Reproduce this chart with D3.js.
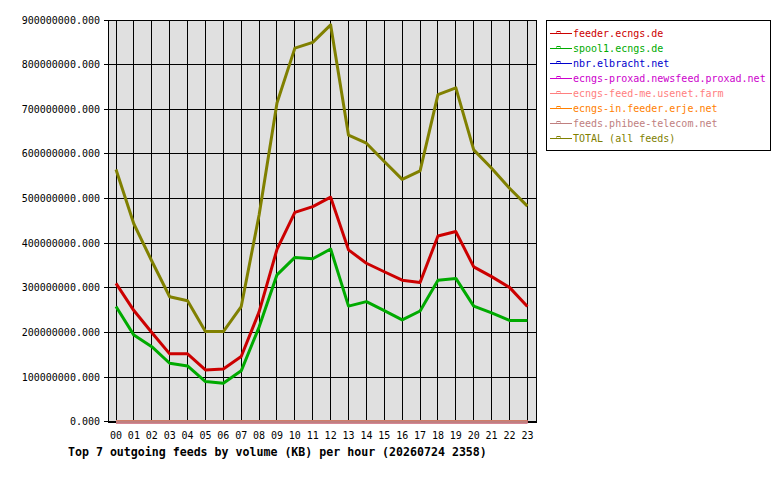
<!DOCTYPE html>
<html>
<head>
<meta charset="utf-8">
<script src="https://cdn.jsdelivr.net/npm/d3@7"></script>
<style>
  body { margin: 0; background: #fff; }
  svg { display: block; }
</style>
</head>
<body>
<svg id="chart"></svg>
<script>
// hourly outgoing volume (KB) per feed
const hours = ["00","01","02","03","04","05","06","07","08","09","10","11",
  "12","13","14","15","16","17","18","19","20","21","22","23"];

const feederEcngs = [310,249,200,152,152,116,118,146,246,386,469,482,
  503,385,355,336,317,312,416,426,347,325,301,258].map((v) => v * 1e6);
const spool1Ecngs = [258,194,168,131,125,90,86,114,212,329,368,365,
  387,259,269,249,228,248,317,321,259,244,227,227].map((v) => v * 1e6);
const nbrElbracht = [0,0,0,0,0,0,0,0,0,0,0,0,0,0,0,0,0,0,0,0,0,0,0,0];
const proxad = [0,0,0,0,0,0,0,0,0,0,0,0,0,0,0,0,0,0,0,0,0,0,0,0];
const feedMe = [0,0,0,0,0,0,0,0,0,0,0,0,0,0,0,0,0,0,0,0,0,0,0,0];
const erje = [0,0,0,0,0,0,0,0,0,0,0,0,0,0,0,0,0,0,0,0,0,0,0,0];
const phibee = [0,0,0,0,0,0,0,0,0,0,0,0,0,0,0,0,0,0,0,0,0,0,0,0];
const total = [565,443,360,280,271,202,202,258,463,714,837,850,
  889,642,624,583,543,562,733,748,609,568,523,483].map((v) => v * 1e6);

const feedNames = [
  "feeder.ecngs.de",
  "spool1.ecngs.de",
  "nbr.elbracht.net",
  "ecngs-proxad.newsfeed.proxad.net",
  "ecngs-feed-me.usenet.farm",
  "ecngs-in.feeder.erje.net",
  "feeds.phibee-telecom.net",
  "TOTAL (all feeds)",
];
const feedColors = ["#cc0000","#00aa00","#0000cc","#cc00cc","#ff8080","#ff8000","#c08080","#808000"];
const yTicks = [0,1e8,2e8,3e8,4e8,5e8,6e8,7e8,8e8,9e8];
const title = "Top 7 outgoing feeds by volume (KB) per hour (20260724 2358)";

const series = [feederEcngs, spool1Ecngs, nbrElbracht, proxad, feedMe, erje, phibee, total]
  .map((values, i) => ({ name: feedNames[i], color: feedColors[i], values }));

const width = 780;
const height = 480;
const plot = { left: 108, right: 536, top: 20, bottom: 422 };
const mono = "'DejaVu Sans Mono', 'Liberation Mono', monospace";

const x = d3.scaleLinear([0, hours.length - 1], [116, 527.4]);
const y = d3.scaleLinear([0, 9e8], [plot.bottom - 0.3, plot.top]);

const svg = d3.select("#chart").attr("width", width).attr("height", height)
  .style("font-family", mono);

svg.append("rect").attr("width", width).attr("height", height).attr("fill", "#fff");

svg.append("rect")
  .attr("x", plot.left).attr("y", plot.top)
  .attr("width", plot.right - plot.left).attr("height", plot.bottom - plot.top)
  .attr("fill", "#e0e0e0");

// grid
const grid = svg.append("g").attr("stroke", "#000").attr("stroke-width", 1)
  .attr("shape-rendering", "crispEdges");
grid.selectAll(".v").data(hours).join("line")
  .attr("x1", (d, i) => x(i)).attr("x2", (d, i) => x(i))
  .attr("y1", plot.top).attr("y2", plot.bottom);
grid.selectAll(".h").data(yTicks).join("line")
  .attr("x1", plot.left - 4).attr("x2", plot.right)
  .attr("y1", (d) => y(d)).attr("y2", (d) => y(d));
grid.append("rect")
  .attr("x", plot.left).attr("y", plot.top)
  .attr("width", plot.right - plot.left).attr("height", plot.bottom - plot.top)
  .attr("fill", "none");

// y labels
svg.append("g")
  .attr("font-size", 10).attr("text-anchor", "end")
  .selectAll("text").data(yTicks).join("text")
  .attr("x", 100).attr("y", (d) => y(d)).attr("dy", "0.35em")
  .text((d) => d3.format(".3f")(d));

// x labels
svg.append("g")
  .attr("font-size", 10).attr("text-anchor", "middle")
  .selectAll("text").data(hours).join("text")
  .attr("x", (d, i) => x(i)).attr("y", 439)
  .text((d) => d);

// lines
const line = d3.line().x((d, i) => x(i)).y((d) => y(d));
svg.append("g").attr("fill", "none").attr("stroke-width", 3)
  .attr("stroke-linejoin", "round")
  .selectAll("path").data(series).join("path")
  .attr("stroke", (d) => d.color)
  .attr("d", (d) => line(d.values));

// title
svg.append("text")
  .attr("x", 68).attr("y", 456)
  .attr("font-size", 11.6).attr("font-weight", "bold")
  .text(title);

// legend
const legend = svg.append("g");
legend.append("rect")
  .attr("x", 546.5).attr("y", 20.5).attr("width", 224).attr("height", 130)
  .attr("fill", "#fff").attr("stroke", "#000");
const item = legend.selectAll("g").data(series).join("g")
  .attr("transform", (d, i) => `translate(0, ${33.5 + i * 15})`);
item.append("line")
  .attr("x1", 550).attr("x2", 572)
  .attr("stroke", (d) => d.color).attr("stroke-width", 1);
item.append("rect")
  .attr("x", 557).attr("y", -2).attr("width", 3).attr("height", 2)
  .attr("fill", "none").attr("stroke", (d) => d.color).attr("stroke-width", 1);
item.append("text")
  .attr("x", 573).attr("dy", "0.35em")
  .attr("font-size", 10).attr("fill", (d) => d.color)
  .text((d) => d.name);
</script>
</body>
</html>
